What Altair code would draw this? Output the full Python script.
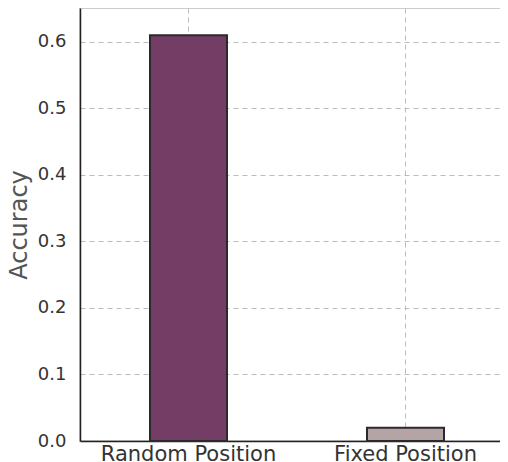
import altair as alt
import pandas as pd

categories = ["Random Position", "Fixed Position"]
accuracy = [0.61, 0.02]
colors = ["#6f3760", "#b2a1a3"]

df = pd.DataFrame({"cond": categories, "acc": accuracy})

bars = alt.Chart(df).mark_bar(size=77, stroke="#2a2a2a", strokeWidth=2, fillOpacity=0.97).encode(
    x=alt.X("cond:N", sort=categories, title=None,
            scale=alt.Scale(paddingInner=0, paddingOuter=0),
            axis=alt.Axis(labelAngle=0, labelFontSize=21, labelColor="#333333", labelFont="DejaVu Sans",
                          domainColor="#222222", domainWidth=1.5, ticks=False, labelPadding=2,
                          grid=True, gridDash=[5, 4], gridColor="#bbbbbb", bandPosition=0.5)),
    y=alt.Y("acc:Q", title="Accuracy",
            scale=alt.Scale(domain=[0, 0.651], nice=False, zero=True),
            axis=alt.Axis(values=[0, 0.1, 0.2, 0.3, 0.4, 0.5, 0.6], format=".1f",
                          labelFontSize=18, labelColor="#333333", labelFont="DejaVu Sans",
                          titleFontSize=24, titleColor="#555555", titleFont="DejaVu Sans", titleFontWeight="normal",
                          titlePadding=6,
                          domainColor="#222222", domainWidth=1.5, ticks=False, labelPadding=14,
                          grid=True, gridDash=[5, 4], gridColor="#bbbbbb")),
    color=alt.Color("cond:N", sort=categories, scale=alt.Scale(domain=categories, range=colors), legend=None),
)

chart = bars.properties(
    width=434, height=433,
    autosize=alt.AutoSizeParams(type="none"),
    padding={"left": 72, "top": 0, "right": -14, "bottom": 21},
).configure_view(stroke="#cccccc", strokeWidth=2)

chart.save("out.html", embed_options={"renderer": "svg", "actions": False})
